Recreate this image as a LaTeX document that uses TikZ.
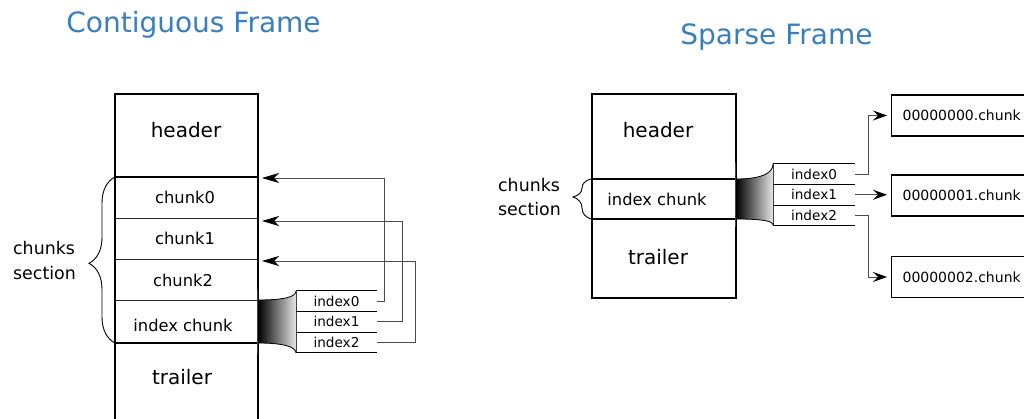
\documentclass[tikz,border=0pt]{standalone}
\usepackage{fontspec}
\setmainfont{DejaVu Sans}
\usetikzlibrary{arrows.meta,decorations.pathreplacing,calc}
\definecolor{titleblue}{RGB}{58,126,189}
\definecolor{wire}{RGB}{75,75,75}
\begin{document}
\begin{tikzpicture}[x=1pt,y=-1pt,
  frame/.style={line width=1.6pt},
  thinsep/.style={line width=0.9pt, black!85},
  boldsep/.style={line width=1.6pt},
  rowline/.style={line width=0.9pt},
  secbig/.style={inner sep=0pt, font=\fontsize{20}{24}\selectfont},
  seclbl/.style={inner sep=0pt, font=\fontsize{16.3}{19}\selectfont},
  sidelbl/.style={inner sep=0pt, align=left, font=\fontsize{17.4}{24.5}\selectfont},
  idxrow/.style={inner sep=0pt, minimum width=#1, minimum height=20.5pt,
                 font=\fontsize{13.6}{16}\selectfont},
  filebox/.style={draw, line width=1.2pt, anchor=west, inner xsep=11pt, inner ysep=0pt,
                  text width=140pt, align=left, minimum height=41pt,
                  font=\fontsize{14}{16}\selectfont},
  titletxt/.style={text=titleblue, inner sep=0pt, anchor=base, font=\fontsize{28}{31}\selectfont},
  conn/.style={draw=wire, line width=0.9pt, -{Stealth[length=#1,width=10pt,inset=5pt,black]}},
  conn/.default=17pt,
  funnel/.style={left color=black, right color=black!10},
  edge/.style={line width=0.8pt},
  curly/.style={line width=0.9pt, decorate, decoration={brace, amplitude=#1}}
]
\useasboundingbox (0,0) rectangle (1024,419);
\clip (0,0) rectangle (1024,419);

% ---------- titles ----------
\node[titletxt] (tcont) at (193.5,33) {Contiguous Frame};
\node[titletxt] (tsparse) at (776.5,45) {Sparse Frame};

% ---------- contiguous frame ----------
\draw[frame] (115,430) -- (115,94) -- (258,94) -- (258,430);
\draw[boldsep] (115,177) -- (257,177);
\draw[thinsep] (115,218) -- (257,218);
\draw[thinsep] (115,259) -- (257,259);
\draw[thinsep] (115,300) -- (257,300);
\draw[boldsep] (115,343) -- (257,343);

\node[secbig] (lhead)  at (186,130) {header};
\node[seclbl] (lc0)    at (185,197) {chunk0};
\node[seclbl] (lc1)    at (185,238) {chunk1};
\node[seclbl] (lc2)    at (183,280) {chunk2};
\node[seclbl] (lidx)   at (183,325) {index chunk};
\node[secbig] (ltrail) at (182,377) {trailer};

\draw[curly=26pt, decoration={aspect=0.48}] (115,343) -- (115,177);
\node[sidelbl] (lside) at (44.5,260.5) {chunks\\section};

% fan-out from the index chunk to its entries
\shade[funnel] (258,300) .. controls (284,300) and (296,297) .. (296,291)
  -- (296,353) .. controls (296,347) and (284,343) .. (258,343) -- cycle;
\draw[edge] (258,300) .. controls (284,300) and (296,297) .. (296,291);
\draw[edge] (258,343) .. controls (284,343) and (296,347) .. (296,353);
\draw[edge, black!75] (296,291) -- (296,353);
\draw[edge, black!75] (257,290) -- (257,354);

\node[idxrow=81pt] (li0) at (336.5,301.25) {index0};
\node[idxrow=81pt] (li1) at (336.5,321.75) {index1};
\node[idxrow=81pt] (li2) at (336.5,342.25) {index2};
\foreach \r in {li0,li1,li2}
  \draw[rowline] (\r.south west) -- (\r.south east);
\draw[rowline] (li0.north west) -- (li0.north east);

\coordinate (lt0) at (262,178);
\coordinate (lt1) at (262,221);
\coordinate (lt2) at (262,261);
\draw[conn] (li0.east) -- ++(7,0)  |- (lt0);
\draw[conn] (li1.east) -- ++(25,0) |- (lt1);
\draw[conn] (li2.east) -- ++(38,0) |- (lt2);

% ---------- sparse frame ----------
\draw[frame] (592,94) rectangle (736,298);
\draw[boldsep] (592,179) -- (736,179);
\draw[boldsep] (592,219) -- (736,219);

\node[secbig] (rhead)  at (658,130) {header};
\node[seclbl] (ridx)   at (657,199) {index chunk};
\node[secbig] (rtrail) at (658,257) {trailer};

\draw[curly=18pt, decoration={aspect=0.55}] (591,219) -- (591,179);
\node[sidelbl] (rside) at (529.5,197) {chunks\\section};

\shade[funnel] (736,179) .. controls (762,179) and (773,173) .. (773,164)
  -- (773,225) .. controls (773,221) and (762,219) .. (736,219) -- cycle;
\draw[edge] (736,179) .. controls (762,179) and (773,173) .. (773,164);
\draw[edge] (736,219) .. controls (762,219) and (773,221) .. (773,225);
\draw[edge, black!75] (773,164) -- (773,225);
\draw[edge, black!75] (735,163) -- (735,227);

\node[idxrow=82pt] (ri0) at (814,174.25) {index0};
\node[idxrow=82pt] (ri1) at (814,194.75) {index1};
\node[idxrow=82pt] (ri2) at (814,215.25) {index2};
\foreach \r in {ri0,ri1,ri2}
  \draw[rowline] (\r.south west) -- (\r.south east);
\draw[rowline] (ri0.north west) -- (ri0.north east);

\node[filebox] (rc0) at (891,115.5) {00000000.chunk};
\node[filebox] (rc1) at (891,195.5) {00000001.chunk};
\node[filebox] (rc2) at (891,277)   {00000002.chunk};

\draw[conn=14pt, shorten >=4pt] (ri0.east) -- ++(13,0) |- (rc0.west);
\draw[conn=14pt, shorten >=4pt] (ri1.east) -- (ri1.east -| rc1.west);
\draw[conn=14pt, shorten >=4pt] (ri2.east) -- ++(13,0) |- (rc2.west);
\end{tikzpicture}
\end{document}
